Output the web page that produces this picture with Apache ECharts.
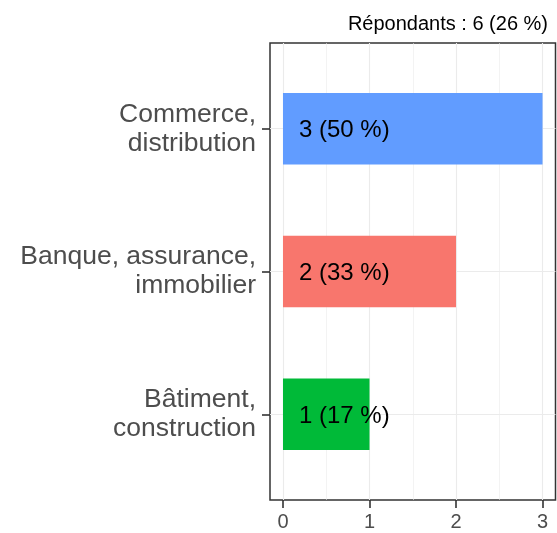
<!DOCTYPE html>
<html>
<head>
<meta charset="utf-8">
<script src="https://cdn.jsdelivr.net/npm/echarts@6/dist/echarts.min.js"></script>
<style>
html,body{margin:0;padding:0;background:#fff;}
#chart{width:557px;height:533px;}
</style>
</head>
<body>
<div id="chart"></div>
<script>
const categories = ["Commerce,\ndistribution", "Banque, assurance,\nimmobilier", "Bâtiment,\nconstruction"];
const counts = [3, 2, 1];
const percents = [50, 33, 17];
const barColors = ["#619CFF", "#F8766D", "#00BA38"];
const xTicks = [0, 1, 2, 3];
const xMinorTicks = [0.5, 1.5, 2.5];
const yPositions = [1, 2, 3];
const titleText = "Répondants : 6 (26 %)";

const FONT = "Liberation Sans, Arial, Helvetica, sans-serif";

const chart = echarts.init(document.getElementById('chart'), null, {renderer: 'canvas'});
chart.setOption({
  animation: false,
  title: {
    text: titleText,
    right: 4,
    top: 9,
    textStyle: {fontFamily: FONT, fontSize: 20, fontWeight: 'normal', color: '#000'}
  },
  grid: [
    {left: 270, right: 1.5, top: 43, bottom: 33, show: true, borderColor: '#333333', borderWidth: 1.5, backgroundColor: 'transparent'},
    {left: 270, right: 1.5, top: 57.28, bottom: 47.28, show: false}
  ],
  xAxis: [
    {
      type: 'value', gridIndex: 0, min: -0.15, max: 3.15, position: 'bottom',
      axisLine: {show: false, onZero: false},
      axisTick: {show: true, length: 8, customValues: xTicks, lineStyle: {color: '#333333', width: 1.6}},
      axisLabel: {show: true, customValues: xTicks, margin: 12, color: '#4D4D4D', fontSize: 20, fontFamily: FONT},
      splitLine: {show: true, lineStyle: {color: '#EBEBEB', width: 1.1}}
    },
    {
      type: 'value', gridIndex: 0, min: -0.15, max: 3.15, position: 'top',
      axisLine: {show: false, onZero: false},
      axisTick: {show: false, customValues: xMinorTicks},
      axisLabel: {show: false, customValues: xMinorTicks},
      splitLine: {show: true, lineStyle: {color: '#EBEBEB', width: 0.6}}
    },
    {
      type: 'value', gridIndex: 1, min: -0.15, max: 3.15, show: false,
      axisLine: {onZero: false},
      splitLine: {show: false}
    }
  ],
  yAxis: [
    {
      type: 'value', gridIndex: 0, min: 0.4, max: 3.6, inverse: true, position: 'left',
      axisLine: {show: false, onZero: false},
      axisTick: {show: true, length: 8, customValues: yPositions, lineStyle: {color: '#333333', width: 1.6}},
      axisLabel: {
        show: true, customValues: yPositions, margin: 14, color: '#4D4D4D', fontSize: 26.5,
        fontFamily: FONT, lineHeight: 29, align: 'right', padding: [2, 0, 0, 0],
        formatter: function (v) { return categories[Math.round(v) - 1]; }
      },
      splitLine: {show: true, lineStyle: {color: '#EBEBEB', width: 1.1}}
    },
    {
      type: 'category', gridIndex: 1, data: categories, inverse: true, show: false,
      axisLine: {onZero: false},
      splitLine: {show: false}
    }
  ],
  series: [
    {
      type: 'bar',
      xAxisIndex: 2,
      yAxisIndex: 1,
      barWidth: '50%',
      data: counts.map(function (c, i) { return {value: c, itemStyle: {color: barColors[i]}}; }),
      label: {
        show: true,
        position: 'insideLeft',
        distance: 16,
        offset: [0, 2],
        color: '#000',
        fontSize: 24,
        fontFamily: FONT,
        formatter: function (p) { return counts[p.dataIndex] + ' (' + percents[p.dataIndex] + ' %)'; }
      }
    }
  ]
});
</script>
</body>
</html>
